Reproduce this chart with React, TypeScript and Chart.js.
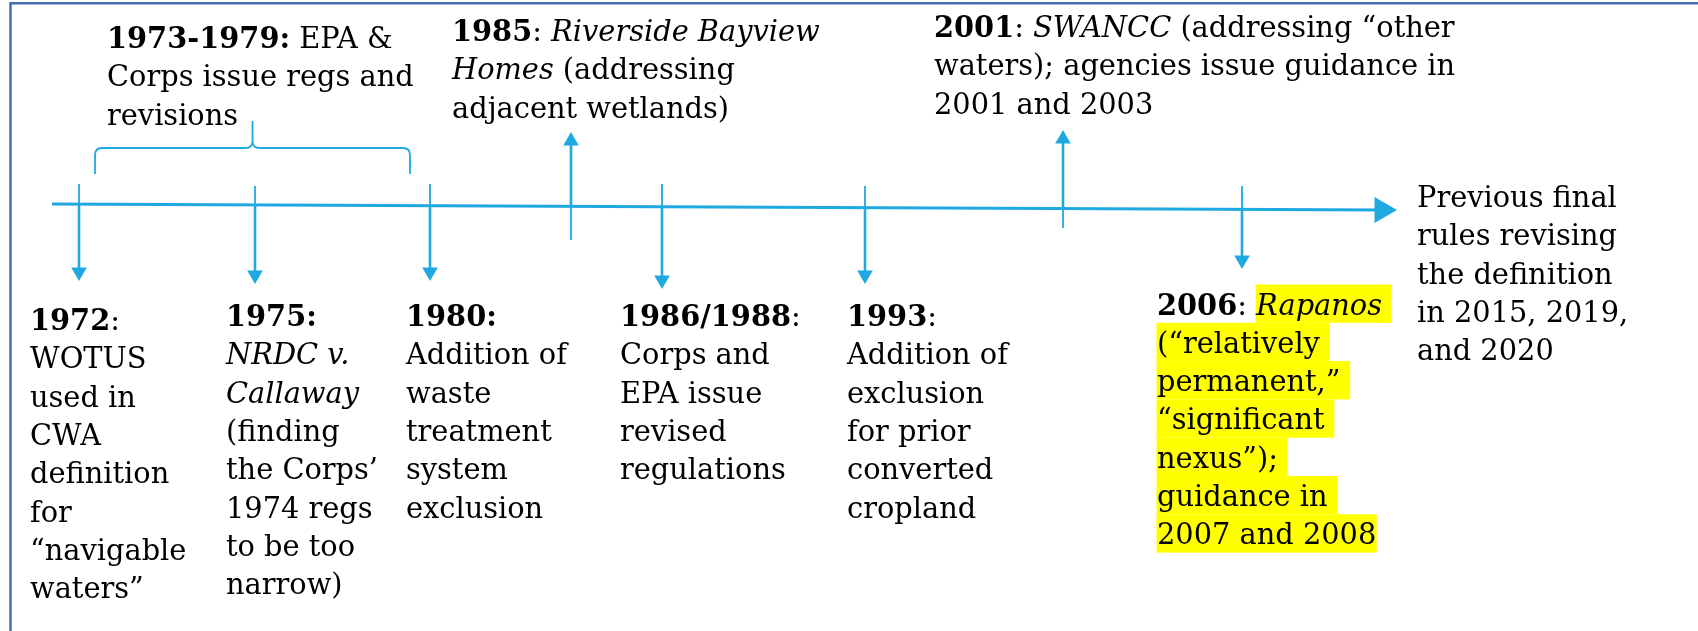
import React, { useEffect, useRef } from 'react';
import { Chart, registerables } from 'chart.js';

Chart.register(...registerables);

// ---------- data ----------
const timelineX = [52, 1397];
const timelineY = [204, 210];

const eventNames = ['1972', '1975', '1980', '1985', '1986/1988', '1993', '2001', '2006'];
const eventPos = [79, 255, 430, 571, 662, 865, 1063, 1242];
const eventDir = [1, 1, 1, -1, 1, 1, -1, 1]; // 1 = arrow down, -1 = arrow up
const eventTip = [281, 284, 281, 132, 289, 284, 130, 269];
const eventStub = [184, 186, 184, 240, 184, 186, 228, 186];

const bracketSpan = [95, 410];
const bracketLevels = [174, 148, 121];

const noteX = [107, 452, 934, 1417, 30, 226, 406, 620, 847, 1157];
const noteY = [48, 41, 37, 207, 330, 326, 326, 326, 326, 314.5];
const noteLines: string[][] = [
  ['**1973-1979:** EPA &', 'Corps issue regs and', 'revisions'],
  ['**1985**: _Riverside Bayview_', '_Homes_ (addressing', 'adjacent wetlands)'],
  ['**2001**: _SWANCC_ (addressing \u201cother', 'waters); agencies issue guidance in', '2001 and 2003'],
  ['Previous final', 'rules revising', 'the definition', 'in 2015, 2019,', 'and 2020'],
  ['**1972**:', 'WOTUS', 'used in', 'CWA', 'definition', 'for', '\u201cnavigable', 'waters\u201d'],
  ['**1975:**', '_NRDC v._', '_Callaway_', '(finding', 'the Corps\u2019', '1974 regs', 'to be too', 'narrow)'],
  ['**1980:**', 'Addition of', 'waste', 'treatment', 'system', 'exclusion'],
  ['**1986/1988**:', 'Corps and', 'EPA issue', 'revised', 'regulations'],
  ['**1993**:', 'Addition of', 'exclusion', 'for prior', 'converted', 'cropland'],
  ['**2006**: ^_Rapanos_ ^', '^(\u201crelatively ^', '^permanent,\u201d ^', '^\u201csignificant ^', '^nexus\u201d); ^', '^guidance in ^', '^2007 and 2008^'],
];

// font calibration strings and their widths in the reference
const fitStrings = ['Corps issue regs and', 'waters); agencies issue guidance in', 'Previous final', 'definition', 'regulations'];
const fitWidths = [304, 517, 205, 141, 166];

// ---------- styles ----------
const BLUE = '#1fa9e1';
const FRAME = '#4a6bb6';
const HIGHLIGHT = '#ffff00';
const FAMILY = '"DejaVu Serif", serif';
const LINE_STEP = 38.3;
const HEAD_R = 9;
const MAIN_HEAD_R = 15;

type Seg = { t: string; b: boolean; i: boolean; h: boolean };

function parseLine(s: string): Seg[] {
  const segs: Seg[] = [];
  let b = false, it = false, h = false, cur = '';
  const push = () => {
    if (cur) segs.push({ t: cur, b, i: it, h });
    cur = '';
  };
  for (let k = 0; k < s.length; k++) {
    if (s[k] === '*' && s[k + 1] === '*') { push(); b = !b; k++; continue; }
    if (s[k] === '_') { push(); it = !it; continue; }
    if (s[k] === '^') { push(); h = !h; continue; }
    cur += s[k];
  }
  push();
  return segs;
}

function lineYAt(x: number) {
  return timelineY[0] + ((x - timelineX[0]) * (timelineY[1] - timelineY[0])) / (timelineX[1] - timelineX[0]);
}

const decorPlugin = {
  id: 'decor',
  beforeDatasetsDraw(chart: any) {
    const ctx = chart.ctx;
    const xs = chart.scales.x;
    const ys = chart.scales.y;
    ctx.save();
    // frame (top + left)
    ctx.strokeStyle = FRAME;
    ctx.lineWidth = 2.5;
    ctx.beginPath();
    ctx.moveTo(xs.getPixelForValue(10.5), ys.getPixelForValue(631));
    ctx.lineTo(xs.getPixelForValue(10.5), ys.getPixelForValue(3.3));
    ctx.lineTo(xs.getPixelForValue(1698), ys.getPixelForValue(3.3));
    ctx.stroke();

    // bracket
    const [l, r] = bracketSpan.map((v) => xs.getPixelForValue(v));
    const m = (l + r) / 2;
    const [yb, yh, yp] = bracketLevels.map((v) => ys.getPixelForValue(v));
    const c = 7;
    ctx.strokeStyle = BLUE;
    ctx.lineWidth = 1.8;
    ctx.beginPath();
    ctx.moveTo(l, yb);
    ctx.lineTo(l, yh + c);
    ctx.quadraticCurveTo(l, yh, l + c, yh);
    ctx.lineTo(m - c, yh);
    ctx.quadraticCurveTo(m, yh, m, yh - c);
    ctx.lineTo(m, yp);
    ctx.moveTo(m, yh - c);
    ctx.quadraticCurveTo(m, yh, m + c, yh);
    ctx.lineTo(r - c, yh);
    ctx.quadraticCurveTo(r, yh, r, yh + c);
    ctx.lineTo(r, yb);
    ctx.stroke();
    ctx.restore();
  },
  afterDatasetsDraw(chart: any) {
    const ctx = chart.ctx;
    const xs = chart.scales.x;
    const ys = chart.scales.y;
    ctx.save();
    ctx.font = `100px ${FAMILY}`;
    let mw = 0;
    fitStrings.forEach((s) => (mw += ctx.measureText(s).width));
    const tw = fitWidths.reduce((a, b) => a + b, 0);
    const size = (100 * tw) / mw;
    const fontOf = (s: Seg) => `${s.i ? 'italic ' : ''}${s.b ? 'bold ' : ''}${size}px ${FAMILY}`;
    ctx.textBaseline = 'alphabetic';
    ctx.textAlign = 'left';

    const layout = noteLines.map((lines, bi) =>
      lines.map((line, li) => {
        const segs = parseLine(line);
        let x = xs.getPixelForValue(noteX[bi]);
        const y = ys.getPixelForValue(noteY[bi] + li * LINE_STEP);
        return segs.map((s) => {
          ctx.font = fontOf(s);
          const w = ctx.measureText(s.t).width;
          const item = { s, x, y, w };
          x += w;
          return item;
        });
      })
    );
    // highlights
    ctx.fillStyle = HIGHLIGHT;
    layout.forEach((block) =>
      block.forEach((line) =>
        line.forEach(({ s, x, y, w }) => {
          if (s.h) ctx.fillRect(x - 0.5, y - 30, w + 1, LINE_STEP);
        })
      )
    );
    // text
    ctx.fillStyle = '#000000';
    layout.forEach((block) =>
      block.forEach((line) =>
        line.forEach(({ s, x, y }) => {
          ctx.font = fontOf(s);
          ctx.fillText(s.t, x, y);
        })
      )
    );
    ctx.restore();
  },
};

export default function App() {
  const ref = useRef<HTMLCanvasElement | null>(null);
  useEffect(() => {
    if (!ref.current) return;
    const stems: any[] = [];
    const stubs: any[] = [];
    const heads: any[] = [];
    const headRot: number[] = [];
    const headRad: number[] = [];
    eventPos.forEach((p, i) => {
      const ly = lineYAt(p);
      const centre = eventTip[i] - eventDir[i] * HEAD_R;
      stems.push({ x: p, y: ly }, { x: p, y: centre }, { x: p, y: null });
      stubs.push({ x: p, y: ly }, { x: p, y: eventStub[i] }, { x: p, y: null });
      heads.push({ x: p, y: centre });
      headRot.push(eventDir[i] === 1 ? 180 : 0);
      headRad.push(HEAD_R);
    });
    const mainEnd = timelineX[1] - MAIN_HEAD_R;
    heads.push({ x: mainEnd, y: lineYAt(mainEnd) });
    headRot.push(90);
    headRad.push(MAIN_HEAD_R);

    const chart = new Chart(ref.current, {
      type: 'scatter',
      data: {
        datasets: [
          {
            label: 'timeline',
            data: [
              { x: timelineX[0], y: timelineY[0] },
              { x: mainEnd, y: lineYAt(mainEnd) },
            ],
            showLine: true,
            borderColor: BLUE,
            borderWidth: 3,
            pointRadius: 0,
          },
          {
            label: 'stems',
            data: stems,
            showLine: true,
            spanGaps: false,
            borderColor: BLUE,
            borderWidth: 2.6,
            pointRadius: 0,
          },
          {
            label: 'stubs',
            data: stubs,
            showLine: true,
            spanGaps: false,
            borderColor: BLUE,
            borderWidth: 1.8,
            pointRadius: 0,
          },
          {
            label: 'heads',
            data: heads,
            showLine: false,
            pointStyle: 'triangle',
            pointRotation: headRot,
            pointRadius: headRad,
            backgroundColor: BLUE,
            borderColor: BLUE,
            borderWidth: 0,
          },
        ],
      } as any,
      options: {
        animation: false,
        responsive: false,
        events: [],
        layout: { padding: 0, autoPadding: false },
        plugins: { legend: { display: false }, tooltip: { enabled: false } },
        scales: {
          x: { type: 'linear', min: 0, max: 1698, display: false },
          y: { type: 'linear', min: 0, max: 631, reverse: true, display: false },
        },
      } as any,
      plugins: [decorPlugin],
    });
    return () => chart.destroy();
  }, []);
  return (
    <div style={{ position: 'absolute', left: 0, top: 0, width: 1698, height: 631, background: '#ffffff' }}>
      <canvas ref={ref} width={1698} height={631} />
    </div>
  );
}
